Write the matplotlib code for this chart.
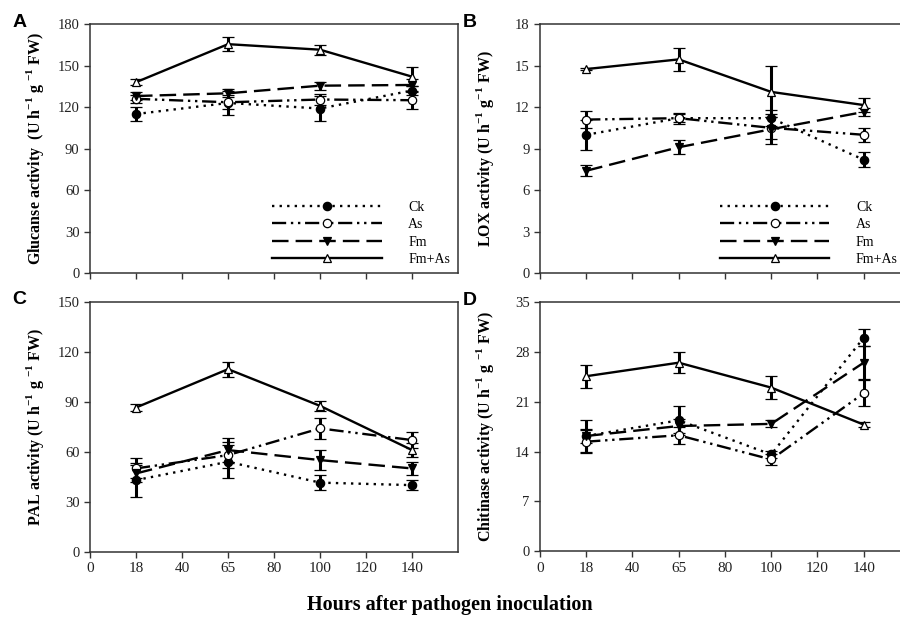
import matplotlib.pyplot as plt

plt.rcParams['font.family'] = ['Liberation Serif', 'DejaVu Serif']
plt.rcParams['mathtext.fontset'] = 'custom'
plt.rcParams['mathtext.rm'] = 'Liberation Serif'
plt.rcParams['mathtext.bf'] = 'Liberation Serif:bold'

# sampling times (labels) and where they sit on the drawn axis
x_pos = [20, 60, 100, 140]
tick_pos = [0, 20, 40, 60, 80, 100, 120, 140]
tick_labels = ['0', '18', '40', '65', '80', '100', '120', '140']

series = ['Ck', 'As', 'Fm', 'Fm+As']

# A: glucanase
glu_ck = [115, 123, 119, 132]
glu_ck_err = [5, 9, 9, 3]
glu_as = [126, 123.5, 125.5, 125]
glu_as_err = [3, 5, 4, 6]
glu_fm = [128, 130, 135.5, 136]
glu_fm_err = [3, 3, 3, 4]
glu_fmas = [138, 165.5, 161.5, 142]
glu_fmas_err = [2, 5, 3.5, 7]

# B: LOX
lox_ck = [10.0, 11.2, 11.2, 8.2]
lox_ck_err = [1.1, 0.3, 0.6, 0.55]
lox_as = [11.1, 11.2, 10.5, 10.0]
lox_as_err = [0.6, 0.4, 0.8, 0.5]
lox_fm = [7.4, 9.1, 10.4, 11.65]
lox_fm_err = [0.4, 0.5, 1.1, 0.3]
lox_fmas = [14.75, 15.45, 13.1, 12.15]
lox_fmas_err = [0.1, 0.85, 1.85, 0.5]

# C: PAL
pal_ck = [43, 54, 41.5, 40]
pal_ck_err = [10, 10, 4.5, 3]
pal_as = [50, 58, 74, 67]
pal_as_err = [6, 8, 6.5, 5]
pal_fm = [47, 61, 55, 50]
pal_fm_err = [5, 7, 6, 4]
pal_fmas = [86.5, 109.5, 87.5, 61]
pal_fmas_err = [2, 4.5, 3, 4]

# D: chitinase
chi_ck = [16.2, 18.4, 13.6, 30.0]
chi_ck_err = [2.2, 2.0, 0.5, 1.2]
chi_as = [15.4, 16.3, 12.9, 22.2]
chi_as_err = [1.6, 1.2, 0.8, 1.8]
chi_fm = [16.2, 17.6, 17.9, 26.5]
chi_fm_err = [1.0, 1.0, 0.5, 2.3]
chi_fmas = [24.6, 26.5, 23.0, 17.8]
chi_fmas_err = [1.6, 1.5, 1.6, 0.3]

styles = {
    'Ck': dict(ls=(0, (1, 2.2)), marker='o', mfc='black', ms=6),
    'As': dict(ls=(0, (6, 2, 1, 2, 1, 2)), marker='o', mfc='white', ms=6),
    'Fm': dict(ls=(0, (7, 3)), marker='v', mfc='black', ms=6),
    'Fm+As': dict(ls='-', marker='^', mfc='white', ms=6),
}

spine_col = '#333333'


def draw_panel(ax, vals, errs, ymax, ystep, ylabel, letter, bottom, legend):
    for name, v, e in zip(series, vals, errs):
        st = styles[name]
        ax.errorbar(x_pos, v, yerr=e, color='black', lw=1.7, ls=st['ls'],
                    marker=st['marker'], mfc=st['mfc'], mec='black', mew=0.9,
                    ms=st['ms'], ecolor='black', elinewidth=2.2, capsize=4.2,
                    capthick=2.2, label=name)
    ax.set_xlim(0, 160)
    ax.set_ylim(0, ymax)
    ax.set_xticks(tick_pos)
    ax.set_yticks(range(0, ymax + 1, ystep))
    if bottom:
        ax.set_xticklabels(tick_labels, fontsize=11)
    else:
        ax.set_xticklabels([])
    ax.tick_params(axis='both', direction='out', length=4, width=1,
                   color=spine_col, labelcolor='#222222')
    ax.tick_params(axis='y', labelsize=10.5)
    for s in ax.spines.values():
        s.set_color(spine_col)
        s.set_linewidth(1.1)
    ax.set_ylabel(ylabel, fontsize=11.5, fontweight='bold')
    ax.yaxis.set_label_coords(-0.12, 0.5)

    if legend is not None:
        handles, labels = ax.get_legend_handles_labels()
        handles = [h[0] for h in handles]
        ax.legend(handles, labels, loc='lower left', bbox_to_anchor=legend,
                  frameon=False, fontsize=10, handlelength=7.9,
                  handletextpad=1.9, labelspacing=0.3, borderpad=0,
                  borderaxespad=0, numpoints=1)

    pos = ax.get_position()
    fig.text(pos.x0 - 0.086, pos.y1 + 0.003, letter, fontsize=14,
             fontweight='bold', family='Liberation Sans', va='center')


fig = plt.figure(figsize=(9, 6.18), dpi=100)
ax_a = fig.add_axes([0.1, 0.558, 0.409, 0.403])
ax_b = fig.add_axes([0.6, 0.558, 0.411, 0.403])
ax_c = fig.add_axes([0.1, 0.107, 0.409, 0.405])
ax_d = fig.add_axes([0.6, 0.108, 0.411, 0.403])

draw_panel(ax_a, [glu_ck, glu_as, glu_fm, glu_fmas],
           [glu_ck_err, glu_as_err, glu_fm_err, glu_fmas_err],
           180, 30, r'Glucanse activity  (U h$^{\mathbf{-1}}$ g $^{\mathbf{-1}}$ FW)',
           'A', False, (0.495, 0.03))
draw_panel(ax_b, [lox_ck, lox_as, lox_fm, lox_fmas],
           [lox_ck_err, lox_as_err, lox_fm_err, lox_fmas_err],
           18, 3, r'LOX activity (U h$^{\mathbf{-1}}$ g$^{\mathbf{-1}}$ FW)',
           'B', False, (0.486, 0.03))
draw_panel(ax_c, [pal_ck, pal_as, pal_fm, pal_fmas],
           [pal_ck_err, pal_as_err, pal_fm_err, pal_fmas_err],
           150, 30, r'PAL activity (U h$^{\mathbf{-1}}$ g $^{\mathbf{-1}}$ FW)',
           'C', True, None)
draw_panel(ax_d, [chi_ck, chi_as, chi_fm, chi_fmas],
           [chi_ck_err, chi_as_err, chi_fm_err, chi_fmas_err],
           35, 7, r'Chitinase activity (U h$^{\mathbf{-1}}$ g $^{\mathbf{-1}}$ FW)',
           'D', True, None)

fig.text(0.5, 0.021, 'Hours after pathogen inoculation', ha='center',
         va='center', fontsize=14.5, fontweight='bold')

fig.savefig('out.png', dpi=100)
